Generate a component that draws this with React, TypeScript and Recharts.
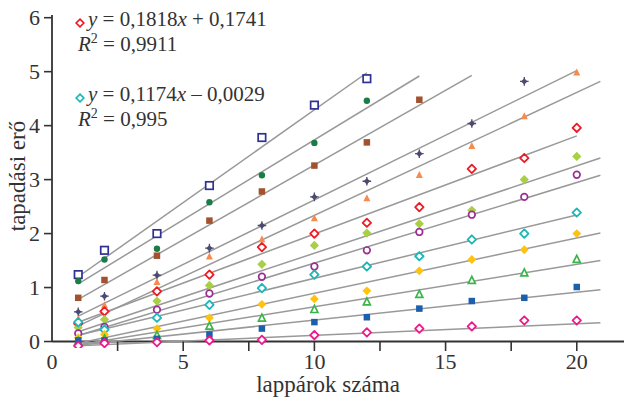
import React from 'react';
import { ScatterChart, Scatter, XAxis, YAxis, ReferenceLine } from 'recharts';

// ---- data ----
const xValues = [1, 2, 4, 6, 8, 10, 12, 14, 16, 18, 20];
const xTicks = [0, 2.5, 5, 7.5, 10, 12.5, 15, 17.5, 20];
const xLabelTicks = [0, 5, 10, 15, 20];
const yTicks = [0, 1, 2, 3, 4, 5, 6];

const navyOpenSquare = [1.24, 1.69, 2.0, 2.89, 3.78, 4.38, 4.87];
const greenCircle = [1.12, 1.52, 1.72, 2.58, 3.08, 3.68, 4.46];
const brownSquare = [0.81, 1.14, 1.59, 2.24, 2.78, 3.26, 3.69, 4.48];
const slateStar = [0.55, 0.84, 1.23, 1.73, 2.15, 2.68, 2.97, 3.48, 4.04, 4.82];
const orangeTriangle = [0.41, 0.67, 1.1, 1.57, 1.89, 2.28, 2.65, 3.08, 3.62, 4.17, 4.98];
const redDiamond = [0.33, 0.56, 0.93, 1.24, 1.75, 2.0, 2.2, 2.49, 3.2, 3.4, 3.96];
const limeDiamond = [0.26, 0.41, 0.75, 1.04, 1.43, 1.78, 2.01, 2.18, 2.43, 3.0, 3.43];
const purpleCircle = [0.15, 0.27, 0.59, 0.89, 1.2, 1.39, 1.69, 2.03, 2.35, 2.68, 3.09];
const cyanDiamond = [0.36, 0.22, 0.44, 0.68, 0.99, 1.24, 1.39, 1.58, 1.89, 2.0, 2.39];
const goldDiamond = [0.07, 0.13, 0.24, 0.44, 0.69, 0.79, 0.94, 1.31, 1.52, 1.7, 2.0];
const greenTriangle = [0.0, 0.04, 0.11, 0.28, 0.43, 0.59, 0.73, 0.87, 1.13, 1.27, 1.52];
const blueSquare = [0.02, 0.02, 0.05, 0.13, 0.24, 0.36, 0.45, 0.61, 0.75, 0.81, 1.01];
const magentaDiamond = [-0.08, -0.03, -0.01, 0.02, 0.03, 0.12, 0.17, 0.24, 0.28, 0.39, 0.39];

// trend lines: start x, end x, start y, end y
const trendStartX = [1, 1, 1, 1, 1, 1, 1, 1, 1, 1, 1, 1, 1];
const trendEndX = [12, 14, 16, 20, 20.9, 20, 20.9, 20.9, 20, 20.9, 20.9, 20.9, 20.9];
const trendStartY = [1.2, 1.07, 0.78, 0.47, 0.29, 0.356, 0.18, 0.11, 0.115, -0.03, -0.06, -0.07, -0.08];
const trendEndY = [4.98, 4.92, 4.93, 5.02, 4.82, 3.81, 3.4, 3.08, 2.345, 2.01, 1.5, 0.96, 0.35];

const toPoints = (vals: number[]) => vals.map((v, i) => ({ x: xValues[i], y: v }));

// ---- marker shapes ----
const openSquare = (color: string, s: number) => (p: any) => (
  <rect x={p.cx - s / 2} y={p.cy - s / 2} width={s} height={s} fill="#fff" stroke={color} strokeWidth={1.7} />
);
const fillSquare = (color: string, s: number) => (p: any) => (
  <rect x={p.cx - s / 2} y={p.cy - s / 2} width={s} height={s} fill={color} />
);
const fillCircle = (color: string, r: number) => (p: any) => <circle cx={p.cx} cy={p.cy} r={r} fill={color} />;
const openCircle = (color: string, r: number) => (p: any) => (
  <circle cx={p.cx} cy={p.cy} r={r} fill="#fff" stroke={color} strokeWidth={1.7} />
);
const diamondPath = (cx: number, cy: number, r: number) =>
  `M${cx},${cy - r}L${cx + r},${cy}L${cx},${cy + r}L${cx - r},${cy}Z`;
const openDiamond = (color: string, r: number) => (p: any) => (
  <path d={diamondPath(p.cx, p.cy, r)} fill="#fff" stroke={color} strokeWidth={1.8} strokeLinejoin="round" />
);
const fillDiamond = (color: string, r: number) => (p: any) => <path d={diamondPath(p.cx, p.cy, r)} fill={color} />;
const starMarker = (color: string) => (p: any) => (
  <g>
    <path d={diamondPath(p.cx, p.cy, 3.2)} fill={color} />
    <path d={`M${p.cx - 4.3},${p.cy}H${p.cx + 4.3}M${p.cx},${p.cy - 4.3}V${p.cy + 4.3}`} stroke={color} strokeWidth={1.3} />
  </g>
);
const triPath = (cx: number, cy: number, s: number) =>
  `M${cx},${cy - s * 0.6}L${cx + s / 2},${cy + s * 0.4}L${cx - s / 2},${cy + s * 0.4}Z`;
const fillTriangle = (color: string, s: number) => (p: any) => <path d={triPath(p.cx, p.cy, s)} fill={color} />;
const openTriangle = (color: string, s: number) => (p: any) => (
  <path d={triPath(p.cx, p.cy, s)} fill="#fff" stroke={color} strokeWidth={1.7} strokeLinejoin="miter" />
);

const series = [
  { data: navyOpenSquare, shape: openSquare('#2e3192', 7.5) },
  { data: greenCircle, shape: fillCircle('#1b7d46', 3.2) },
  { data: brownSquare, shape: fillSquare('#a3522f', 6.5) },
  { data: slateStar, shape: starMarker('#4b4a70') },
  { data: orangeTriangle, shape: fillTriangle('#f68b4f', 7) },
  { data: redDiamond, shape: openDiamond('#ed1c24', 4.2) },
  { data: limeDiamond, shape: fillDiamond('#a8cf45', 4.6) },
  { data: purpleCircle, shape: openCircle('#9d2c94', 3.3) },
  { data: cyanDiamond, shape: openDiamond('#1cb7b7', 4.2) },
  { data: goldDiamond, shape: fillDiamond('#ffc20e', 4.4) },
  { data: greenTriangle, shape: openTriangle('#3ab54a', 7) },
  { data: blueSquare, shape: fillSquare('#1c5fad', 6.5) },
  { data: magentaDiamond, shape: openDiamond('#ec1a8c', 4.2) },
];

const FONT = "'Liberation Serif', 'DejaVu Serif', serif";
const AXIS = '#333';

const XTick = (props: any) => {
  const { x, y, payload } = props;
  const v = payload.value;
  return (
    <g>
      {v > 0 && <line x1={x} x2={x} y1={y - 6.5} y2={y + 3} stroke={AXIS} strokeWidth={1.6} />}
      {xLabelTicks.includes(v) && (
        <text x={x} y={y + 21} textAnchor="middle" style={{ fontFamily: FONT, fontSize: 22 }} fill={AXIS}>
          {v}
        </text>
      )}
    </g>
  );
};

const YTick = (props: any) => {
  const { x, y, payload } = props;
  return (
    <text x={x} y={y + 7} textAnchor="end" style={{ fontFamily: FONT, fontSize: 22 }} fill={AXIS}>
      {payload.value}
    </text>
  );
};

const noShape = () => <g />;

export default function App() {
  return (
    <div style={{ position: 'absolute', left: 0, top: 0, width: 624, height: 398, background: '#fff' }}>
      <ScatterChart width={624} height={398} margin={{ top: 15, right: 0, bottom: 0, left: 0 }}>
        <XAxis
          type="number"
          dataKey="x"
          domain={[0, 21.8]}
          ticks={xTicks}
          interval={0}
          axisLine={false}
          tickLine={false}
          tickSize={0}
          tickMargin={0}
          height={50}
          tick={<XTick />}
          allowDataOverflow
        />
        <YAxis
          type="number"
          dataKey="y"
          domain={[-0.12, 6.05]}
          ticks={yTicks}
          interval={0}
          axisLine={false}
          tickLine={{ stroke: AXIS, strokeWidth: 1.6 }}
          tickSize={8}
          tickMargin={4}
          width={52}
          tick={<YTick />}
          allowDataOverflow
        />
        {trendEndY.map((_, i) => (
          <Scatter
            key={'t' + i}
            data={[
              { x: trendStartX[i], y: trendStartY[i] },
              { x: trendEndX[i], y: trendEndY[i] },
            ]}
            line={{ stroke: '#999', strokeWidth: 1.5 }}
            shape={noShape}
            isAnimationActive={false}
          />
        ))}
        <ReferenceLine y={0} stroke={AXIS} strokeWidth={1.8} ifOverflow="visible" />
        <ReferenceLine
          segment={[
            { x: 0, y: 0 },
            { x: 0, y: 6.05 },
          ]}
          stroke={AXIS}
          strokeWidth={1.8}
          ifOverflow="visible"
        />
        {series.map((s, i) => (
          <Scatter key={'s' + i} data={toPoints(s.data)} shape={s.shape} isAnimationActive={false} />
        ))}
      </ScatterChart>
      <svg width={624} height={398} style={{ position: 'absolute', left: 0, top: 0, pointerEvents: 'none' }}>
        <g style={{ fontFamily: FONT, fontSize: 21 }} fill={AXIS}>
          <path d={diamondPath(80, 23, 3.8)} fill="#fff" stroke="#ed1c24" strokeWidth={1.7} />
          <text x={88} y={26}>
            <tspan fontStyle="italic">y</tspan> = 0,1818<tspan fontStyle="italic">x</tspan> + 0,1741
          </text>
          <text x={78} y={51}>
            <tspan fontStyle="italic">R</tspan>
            <tspan style={{ fontSize: 14 }} dy={-8}>2</tspan>
            <tspan dy={8}> = 0,9911</tspan>
          </text>
          <path d={diamondPath(80, 98, 3.8)} fill="#fff" stroke="#1cb7b7" strokeWidth={1.7} />
          <text x={88} y={101}>
            <tspan fontStyle="italic">y</tspan> = 0,1174<tspan fontStyle="italic">x</tspan> – 0,0029
          </text>
          <text x={78} y={126}>
            <tspan fontStyle="italic">R</tspan>
            <tspan style={{ fontSize: 14 }} dy={-8}>2</tspan>
            <tspan dy={8}> = 0,995</tspan>
          </text>
          <text x={328} y={392} textAnchor="middle" style={{ fontSize: 23 }}>
            lappárok száma
          </text>
          <text x={0} y={0} textAnchor="middle" style={{ fontSize: 23 }} transform="translate(25,176) rotate(-90)">
            tapadási erő
          </text>
        </g>
      </svg>
    </div>
  );
}
